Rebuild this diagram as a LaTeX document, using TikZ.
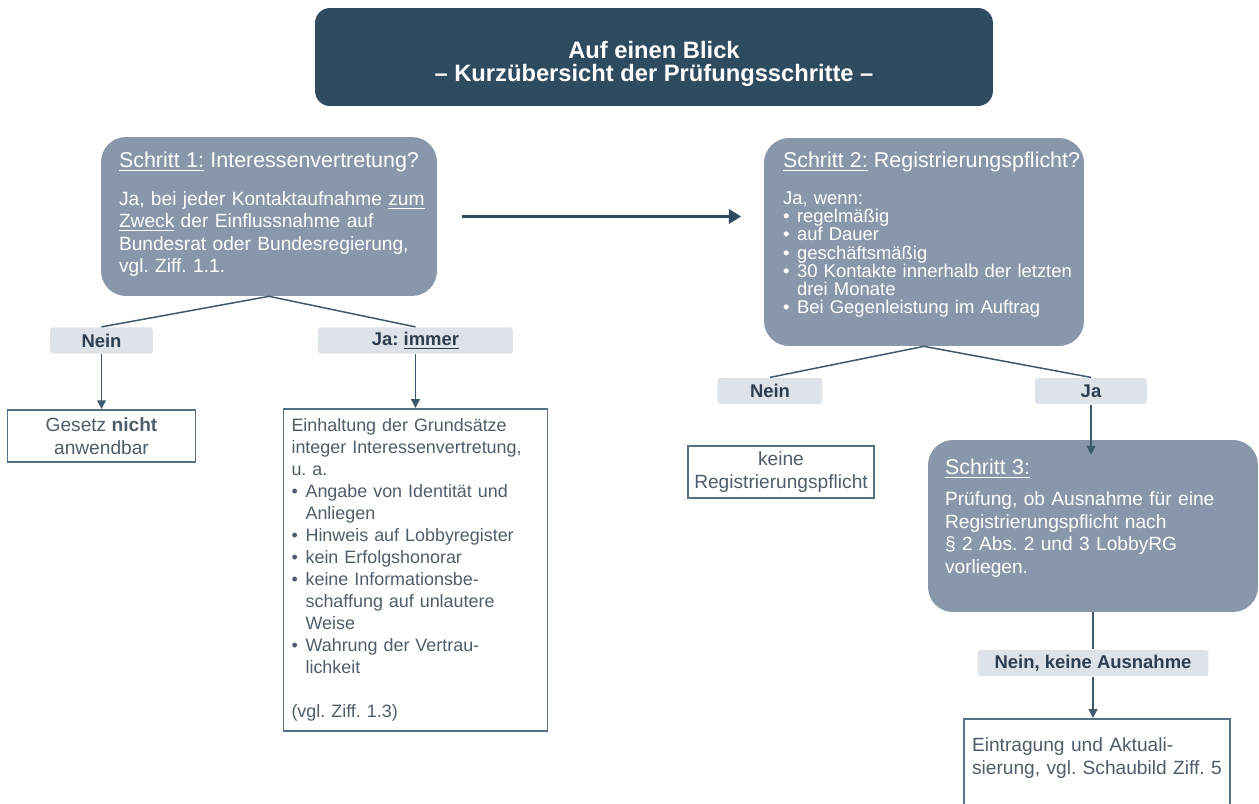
\documentclass[tikz,border=0pt]{standalone}
\usepackage{fontspec}
\setmainfont{Liberation Sans}
\usetikzlibrary{arrows.meta, positioning}

\definecolor{titleblue}{HTML}{2F4B60}
\definecolor{stepgray}{HTML}{8898AA}
\definecolor{labelgray}{HTML}{DEE2E9}
\definecolor{linkblue}{HTML}{3E586D}
\definecolor{boxblue}{HTML}{56708A}
\definecolor{textgray}{HTML}{4F5D6B}
\definecolor{labeltext}{HTML}{2C3E50}

\newcommand{\txtTitle}{\fontsize{13.5}{13.2}\selectfont\bfseries\frenchspacing}
\newcommand{\txtHead}{\fontsize{12.2}{14}\selectfont\frenchspacing}
\newcommand{\txtBody}{\fontsize{10.9}{12.8}\selectfont\frenchspacing}
\newcommand{\txtTight}{\fontsize{10.5}{10.4}\selectfont\frenchspacing}
\newcommand{\txtList}{\fontsize{10.2}{12.5}\selectfont\frenchspacing}
\newcommand{\txtLabel}{\fontsize{10.5}{12}\selectfont\bfseries\frenchspacing}
\newcommand{\bul}{\makebox[8pt][l]{\textbullet}}
\newcommand{\bulind}{\hspace*{8pt}}

\begin{document}
\begin{tikzpicture}[x=0.02cm, y=-0.02cm,
    titlebox/.style={fill=titleblue, text=white, rounded corners=0.3cm, align=center,
      minimum width=13.56cm, minimum height=1.96cm, font=\txtTitle},
    stepbox/.style={fill=stepgray, text=white, rounded corners=0.5cm, align=left},
    answer/.style={fill=labelgray, text=labeltext, rounded corners=2pt,
      minimum height=0.53cm, inner sep=0pt, font=\txtLabel},
    resultbox/.style={draw=boxblue, line width=1.1pt, fill=white, text=textgray},
    link/.style={draw=linkblue, line width=0.85pt},
    arrow/.style={link, -{Triangle[length=5pt, width=5pt]}},
    bigarrow/.style={draw=titleblue, line width=1.8pt, -{Triangle[length=7pt, width=8pt]}}]

  \useasboundingbox (0,0) rectangle (1259,804);

  % title
  \node[titlebox] (title) at (654,57)
    {\rule{0pt}{17.5pt}Auf einen Blick\\ – Kurzübersicht der Prüfungsschritte –};

  % step 1
  \node[stepbox, minimum width=6.72cm, minimum height=3.18cm, text width=6.0cm,
        inner xsep=0.36cm, font=\txtBody] (step1) at (269,216.5)
    {\mbox{\txtHead\underline{Schritt 1:} Interessenvertretung?}\\[8.7pt]
     \mbox{Ja, bei jeder Kontaktaufnahme \underline{zum}}\\
     \mbox{\underline{Zweck} der Einflussnahme auf}\\
     \mbox{Bundesrat oder Bundesregierung,}\\
     vgl. Ziff. 1.1.\\[-8.3pt]
     \mbox{}};

  % step 2
  \node[stepbox, minimum width=6.4cm, minimum height=4.16cm, text width=5.64cm,
        inner xsep=0.38cm, font=\txtTight] (step2) at (924,242)
    {\mbox{\txtHead\underline{Schritt 2:} Registrierungspflicht?}\\[10.5pt]
     Ja, wenn:\\
     \bul regelmäßig\\
     \bul auf Dauer\\
     \bul geschäftsmäßig\\
     \mbox{\bul 30 Kontakte innerhalb der letzten}\\
     \bulind drei Monate\\
     \mbox{\bul Bei Gegenleistung im Auftrag}\\[-0.2pt]
     \mbox{}};

  \draw[bigarrow] ([xshift=0.5cm]step1.east) -- ([xshift=-0.45cm]step1.east -| step2.west);

  % answers step 1
  \node[answer, minimum width=2.06cm] (nein1) at (101.5,340.5) {Nein};
  \node[answer, minimum width=3.9cm] (ja1) at (415.5,340.5) {Ja: \underline{immer}};
  \draw[link] (step1.south) -- (nein1.north);
  \draw[link] (step1.south) -- (ja1.north);

  \node[resultbox, minimum width=3.76cm, minimum height=1.04cm, align=center,
        font=\txtBody] (gesetz) at (101.5,436) {Gesetz \textbf{nicht}\\ anwendbar};
  \node[resultbox, anchor=north, minimum width=5.28cm, text width=4.96cm,
        inner xsep=0.16cm, inner ysep=0.2cm, align=left, font=\txtList] (grundsaetze) at (415.5,408)
    {Einhaltung der Grundsätze\\
     \mbox{integer Interessenvertretung,}\\
     u. a.\\
     \mbox{\bul Angabe von Identität und}\\
     \bulind Anliegen\\
     \mbox{\bul Hinweis auf Lobbyregister}\\
     \bul kein Erfolgshonorar\\
     \mbox{\bul keine Informationsbe-}\\
     \mbox{\bulind schaffung auf unlautere}\\
     \bulind Weise\\
     \mbox{\bul Wahrung der Vertrau-}\\
     \bulind lichkeit\\[12.5pt]
     (vgl. Ziff. 1.3)};
  \draw[arrow] (nein1.south) -- (gesetz.north);
  \draw[arrow] (ja1.south) -- (grundsaetze.north);

  % answers step 2
  \node[answer, minimum width=2.1cm] (nein2) at (770,391) {Nein};
  \node[answer, minimum width=2.24cm] (ja2) at (1091,391) {Ja};
  \draw[link] (step2.south) -- (nein2.north);
  \draw[link] (step2.south) -- (ja2.north);

  \node[resultbox, minimum width=3.24cm, minimum height=1.0cm, align=center,
        font=\txtBody] (keine) at (781,472) {keine\\ Registrierungspflicht};

  % step 3
  \node[stepbox, minimum width=6.6cm, minimum height=3.44cm, text width=5.92cm,
        inner xsep=0.34cm, font=\txtBody] (step3) at (1093,526)
    {{\txtHead\underline{Schritt 3:}}\\[5.2pt]
     \mbox{Prüfung, ob Ausnahme für eine}\\
     \mbox{Registrierungspflicht nach}\\
     \mbox{§ 2 Abs. 2 und 3 LobbyRG}\\
     vorliegen.\\[-1.5pt]
     \mbox{}};
  \draw[arrow, shorten >=-0.3cm] (ja2.south) -- (ja2.south |- step3.north);

  \node[answer, minimum width=4.62cm] (nein3) at (1093,663) {Nein, keine Ausnahme};
  \draw[link] (step3.south) -- (nein3.north);

  \node[resultbox, anchor=north, minimum width=5.32cm, text width=5.0cm, inner xsep=0.16cm,
        inner ysep=0.38cm, text depth=1.2cm, align=left, font=\txtBody] (eintrag) at (1097,718)
    {\mbox{Eintragung und Aktuali-}\\
     \mbox{sierung, vgl. Schaubild Ziff. 5}};
  \draw[arrow] (nein3.south) -- (nein3.south |- eintrag.north);
\end{tikzpicture}
\end{document}
